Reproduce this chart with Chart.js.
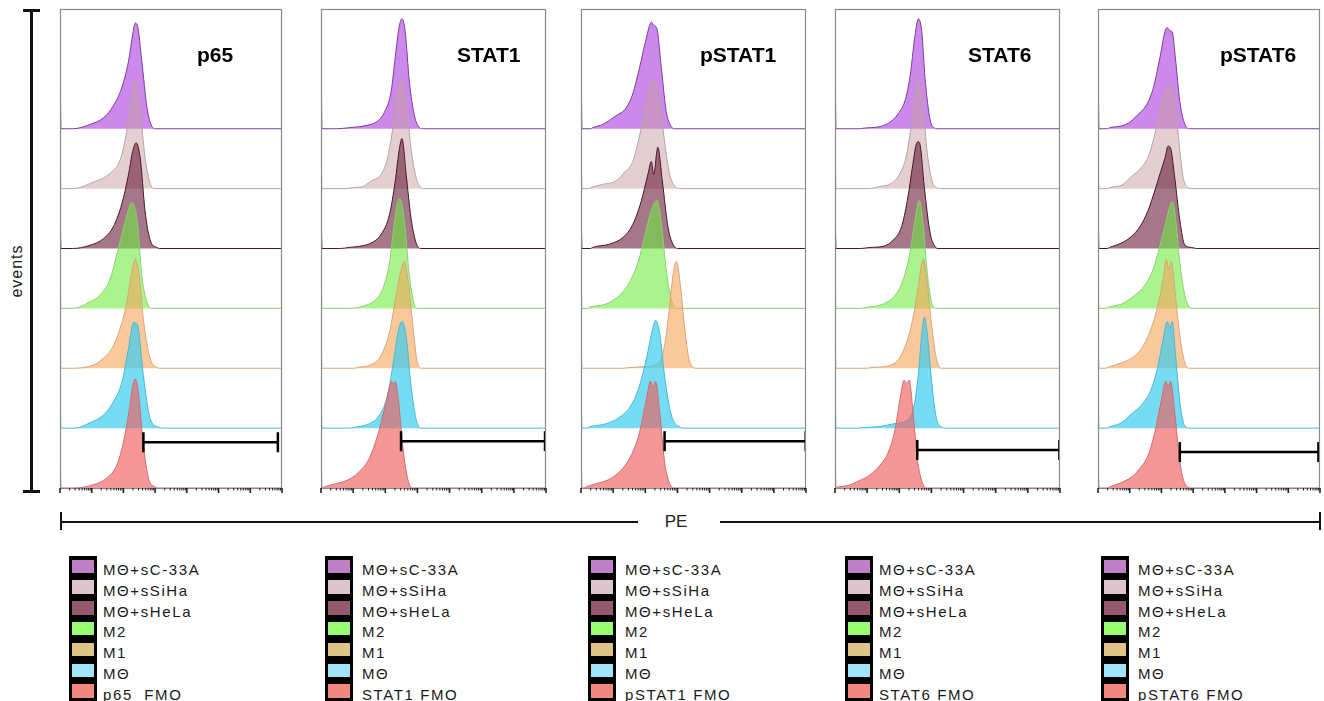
<!DOCTYPE html>
<html lang="en">
<head>
  <meta charset="UTF-8">
  <title>PE histograms</title>
  <script src="https://cdn.jsdelivr.net/npm/chart.js"></script>
  <style>
    body {
      margin: 0;
      background: #fff;
      font-family: Arial, "Liberation Sans", sans-serif;
    }
    #page {
      position: relative;
      width: 1324px;
      height: 701px;
      overflow: hidden;
    }
    .panel {
      position: absolute;
      top: 0;
      height: 500px;
    }
    .bar {
      position: absolute;
      background: #111;
    }
    .events {
      position: absolute;
      left: 17px;
      top: 271px;
      transform: translate(-50%, -50%) rotate(-90deg);
      font-size: 16px;
      letter-spacing: 1px;
      color: #222;
    }
    .pe {
      position: absolute;
      left: 676px;
      top: 522px;
      transform: translate(-50%, -50%);
      font-size: 17px;
      color: #222;
    }
    .swatches {
      position: absolute;
      top: 556px;
      width: 28px;
      height: 150px;
      background: #000;
    }
    .swatches div {
      position: absolute;
      left: 3px;
      width: 22px;
      height: 13.5px;
    }
    .legend-text {
      position: absolute;
      font-size: 15px;
      letter-spacing: 1.6px;
      line-height: 20.8px;
      color: #1a1a1a;
      white-space: pre;
    }
  </style>
</head>
<body>
<div id="page">
  <div class="bar" style="left:30px; top:10px; width:2.5px; height:482px;"></div>
  <div class="bar" style="left:23px; top:9px; width:17px; height:2.5px;"></div>
  <div class="bar" style="left:23px; top:490px; width:17px; height:2.5px;"></div>
  <div class="events">events</div>

  <div class="bar" style="left:60px; top:520.5px; width:578px; height:2.5px;"></div>
  <div class="bar" style="left:720px; top:520.5px; width:600px; height:2.5px;"></div>
  <div class="bar" style="left:59.5px; top:512px; width:2.5px; height:18px;"></div>
  <div class="bar" style="left:1318.5px; top:512px; width:2.5px; height:18px;"></div>
  <div class="pe">PE</div>
</div>
<script>
  // groups, top row first; the last row is the FMO control of each marker
  const groupLabels = ['MΘ+sC-33A', 'MΘ+sSiHa', 'MΘ+sHeLa', 'M2', 'M1', 'MΘ'];
  const markers = ['p65', 'STAT1', 'pSTAT1', 'STAT6', 'pSTAT6'];
  const fmoLabels = ['p65  FMO', 'STAT1 FMO', 'pSTAT1 FMO', 'STAT6 FMO', 'pSTAT6 FMO'];

  // histogram outlines: [PE in decades, events as % of mode]
  const p65Curves = [
    [[0.4,0],[0.95,4],[1.37,10],[1.68,21],[1.95,38],[2.16,62],[2.3,88],[2.37,97],[2.44,95],[2.58,62],[2.74,20],[2.9,2],[3.0,0]],
    [[0.4,0],[1.05,6],[1.58,14],[1.89,26],[2.05,44],[2.21,74],[2.37,100],[2.53,71],[2.68,29],[2.84,5],[3.0,0]],
    [[0.4,0],[0.95,3],[1.37,9],[1.68,20],[1.95,41],[2.16,68],[2.29,89],[2.4,97],[2.53,83],[2.68,35],[2.84,8],[3.05,1],[3.15,0]],
    [[0.4,0],[0.95,6],[1.26,12],[1.58,27],[1.84,55],[2.05,79],[2.26,97],[2.44,79],[2.58,30],[2.74,6],[2.9,0]],
    [[0.4,0],[1.05,3],[1.32,8],[1.63,18],[1.89,36],[2.11,61],[2.26,88],[2.37,100],[2.5,85],[2.63,45],[2.84,9],[3.05,1],[3.15,0]],
    [[0.45,0],[0.95,5],[1.37,12],[1.68,24],[1.95,42],[2.16,73],[2.32,97],[2.44,95],[2.63,48],[2.84,9],[3.1,1],[3.2,0]],
    [[0.45,0],[1.05,3],[1.47,9],[1.79,21],[2.0,42],[2.19,73],[2.29,94],[2.37,100],[2.47,88],[2.63,39],[2.79,9],[3.0,1],[3.1,0]]
  ];
  const stat1Curves = [
    [[0.5,0],[0.88,1],[1.4,3],[1.76,7],[1.97,15],[2.18,34],[2.33,71],[2.44,95],[2.52,101],[2.62,89],[2.75,43],[2.9,13],[3.06,1],[3.15,0]],
    [[0.8,0],[0.99,1],[1.3,2],[1.56,7],[1.87,13],[2.07,28],[2.23,55],[2.35,83],[2.49,101],[2.65,80],[2.8,37],[2.96,10],[3.11,1],[3.2,0]],
    [[0.6,0],[0.88,1],[1.19,2],[1.56,5],[1.87,13],[2.13,31],[2.31,62],[2.44,92],[2.52,101],[2.65,68],[2.8,28],[2.96,5],[3.1,0]],
    [[0.9,0],[1.3,2],[1.66,7],[1.92,18],[2.13,42],[2.28,78],[2.39,98],[2.44,101],[2.59,81],[2.75,30],[2.9,4],[3.0,0]],
    [[1.0,0],[1.19,1],[1.61,4],[1.87,12],[2.13,33],[2.33,66],[2.49,90],[2.59,98],[2.73,75],[2.87,36],[3.0,5],[3.15,0]],
    [[0.9,0],[1.09,1],[1.5,4],[1.82,12],[2.07,30],[2.28,66],[2.41,90],[2.52,98],[2.65,84],[2.8,39],[2.96,8],[3.1,0]],
    [[0.1,1],[0.47,4],[0.88,8],[1.19,15],[1.5,27],[1.76,48],[1.97,72],[2.13,93],[2.19,98],[2.25,95],[2.31,98],[2.42,78],[2.54,39],[2.7,8],[2.85,0]]
  ];
  const pstat1Curves = [
    [[0.3,0],[0.36,1],[0.68,4],[1.09,12],[1.4,19],[1.61,32],[1.82,56],[2.03,83],[2.19,98],[2.26,95],[2.36,92],[2.5,56],[2.65,16],[2.81,2],[2.9,0]],
    [[0.25,0],[0.31,1],[0.68,4],[1.09,7],[1.35,15],[1.61,25],[1.87,55],[2.08,86],[2.24,101],[2.45,80],[2.6,43],[2.76,13],[2.97,1],[3.1,0]],
    [[0.3,0],[0.36,1],[0.88,4],[1.3,10],[1.61,22],[1.87,43],[2.08,68],[2.19,80],[2.26,68],[2.39,93],[2.53,62],[2.71,19],[2.86,4],[3.0,0]],
    [[0.2,0],[0.26,1],[0.78,4],[1.2,12],[1.51,24],[1.77,42],[1.98,66],[2.19,90],[2.36,99],[2.5,78],[2.65,36],[2.81,8],[2.97,0]],
    [[1.3,0],[1.46,0.5],[2.03,1.5],[2.45,6],[2.65,30],[2.81,73],[2.91,94],[2.97,98],[3.07,82],[3.23,36],[3.38,6],[3.6,0]],
    [[0.2,0],[0.26,1],[0.78,4],[1.2,10],[1.56,21],[1.82,39],[2.05,66],[2.22,90],[2.32,99],[2.45,87],[2.6,48],[2.81,12],[3.07,1],[3.2,0]],
    [[0.1,0],[0.16,1],[0.47,4],[0.88,8],[1.3,18],[1.61,33],[1.82,51],[2.03,81],[2.16,98],[2.24,93],[2.32,98],[2.45,69],[2.6,24],[2.76,4],[2.92,0]]
  ];
  const stat6Curves = [
    [[0.8,0],[0.88,0.5],[1.4,2],[1.71,6],[1.97,14],[2.18,26],[2.33,47],[2.49,86],[2.59,101],[2.7,89],[2.8,47],[2.96,8],[3.08,1],[3.15,0]],
    [[1.0,0],[1.4,2],[1.76,5],[2.02,14],[2.21,29],[2.39,62],[2.52,95],[2.59,101],[2.73,80],[2.85,38],[3.01,8],[3.16,1],[3.25,0]],
    [[0.8,0],[1.09,1],[1.5,2],[1.82,8],[2.07,20],[2.25,44],[2.42,77],[2.52,95],[2.59,98],[2.65,95],[2.78,56],[2.96,14],[3.11,2],[3.2,0]],
    [[0.8,0],[0.99,1],[1.5,4],[1.87,12],[2.13,27],[2.33,51],[2.49,81],[2.62,99],[2.75,75],[2.87,33],[3.01,5],[3.15,0]],
    [[1.0,0],[1.09,0.5],[1.61,2],[1.97,8],[2.23,24],[2.44,48],[2.59,75],[2.7,96],[2.75,100],[2.87,78],[3.01,39],[3.16,8],[3.32,0]],
    [[0.7,0],[0.88,0.5],[1.4,1.5],[1.82,4],[2.23,7],[2.44,18],[2.59,48],[2.7,87],[2.78,102],[2.87,87],[3.01,42],[3.16,8],[3.32,1],[3.42,0]],
    [[0.05,0.5],[0.36,2],[0.78,7],[1.09,12],[1.4,21],[1.66,33],[1.87,54],[2.02,81],[2.15,99],[2.23,96],[2.31,99],[2.42,72],[2.56,27],[2.73,4],[2.86,0]]
  ];
  const pstat6Curves = [
    [[0.3,0],[0.37,1],[0.63,2],[0.95,5],[1.26,13],[1.53,22],[1.74,37],[1.95,65],[2.11,89],[2.18,93],[2.26,90],[2.34,89],[2.44,65],[2.58,25],[2.74,4],[2.9,0]],
    [[0.3,0],[0.37,1],[0.74,3],[1.05,11],[1.32,18],[1.58,29],[1.79,50],[2.0,80],[2.16,92],[2.26,95],[2.4,86],[2.55,44],[2.68,11],[2.84,1],[2.95,0]],
    [[0.3,0],[0.37,1],[0.74,5],[1.05,11],[1.32,20],[1.58,35],[1.79,53],[1.98,71],[2.11,83],[2.21,94],[2.29,92],[2.42,65],[2.58,26],[2.74,3],[2.95,1],[3.1,0]],
    [[0.25,0],[0.32,1],[0.74,4],[1.16,12],[1.47,21],[1.74,36],[1.95,57],[2.13,78],[2.26,93],[2.34,98],[2.44,84],[2.58,42],[2.74,12],[2.89,1],[3.0,0]],
    [[0.25,0],[0.32,1],[0.74,5],[1.05,9],[1.37,18],[1.63,33],[1.84,52],[2.02,76],[2.16,100],[2.23,91],[2.32,98],[2.42,73],[2.58,30],[2.74,5],[2.9,0]],
    [[0.3,0],[0.37,1],[0.74,5],[1.05,13],[1.37,21],[1.68,36],[1.89,57],[2.05,81],[2.19,98],[2.26,92],[2.34,98],[2.44,69],[2.58,24],[2.74,2],[2.9,0]],
    [[0.3,0],[0.37,1],[0.74,5],[1.05,10],[1.32,18],[1.58,30],[1.79,51],[1.98,78],[2.14,98],[2.21,93],[2.29,98],[2.42,69],[2.58,24],[2.74,4],[2.95,0]]
  ];
  // pile-up of events at the axis minimum, per row (off scale)
  const edgeCounts = [100, 55, 55, 55, 55, 55, 55];

  // positive gate on the FMO row
  const gateFrom = [2.63, 2.49, 2.6, 2.56, 2.58];
  const gateTo = [6.87, 6.97, 6.99, 6.98, 6.95];
  const gateLevel = [42, 43, 43, 35, 33];

  const allCurves = [p65Curves, stat1Curves, pstat1Curves, stat6Curves, pstat6Curves];

  // layout / style
  const ROW = 55;
  const panelLeft = [60, 321, 581, 835, 1098];
  const panelRight = [282, 546, 806, 1060, 1320];
  const titleX = [137, 136, 119, 133, 122];
  const legendX = [69, 325, 588, 845, 1101];
  const legendTextX = [103, 362, 625, 879, 1138];
  const fillColors = ['rgba(180,80,225,0.68)', 'rgba(200,160,165,0.5)', 'rgba(100,20,50,0.58)',
    'rgba(110,235,60,0.58)', 'rgba(245,165,90,0.6)', 'rgba(60,205,240,0.7)', 'rgba(240,95,95,0.65)'];
  const lineColors = ['#7a3d98', '#b9a2a6', '#45182a', '#8bd070', '#d6a67c', '#4bb6d2', '#cf6c6c'];
  const swatchColors = ['#bf80c8', '#dcc5cc', '#935b6c', '#99ff70', '#dec485', '#a0e4fa', '#f2877f'];

  const framePlugin = {
    id: 'flowFrame',
    afterDatasetsDraw(chart, args, opts) {
      const { ctx, chartArea: a, scales } = chart;
      ctx.save();
      ctx.strokeStyle = '#8a8a8a';
      ctx.lineWidth = 1.2;
      ctx.strokeRect(a.left + 0.5, a.top + 0.5, a.right - a.left - 1, a.bottom - a.top);
      ctx.strokeStyle = '#222';
      for (let d = 0; d <= 7; d++) {
        const x = scales.x.getPixelForValue(d);
        ctx.lineWidth = 1.6;
        ctx.beginPath();
        ctx.moveTo(x, a.bottom);
        ctx.lineTo(x, a.bottom + 5);
        ctx.stroke();
        if (d === 7) break;
        ctx.lineWidth = 1;
        for (let k = 2; k <= 9; k++) {
          const xm = scales.x.getPixelForValue(d + Math.log10(k));
          ctx.beginPath();
          ctx.moveTo(xm, a.bottom);
          ctx.lineTo(xm, a.bottom + 2.5);
          ctx.stroke();
        }
      }
      ctx.fillStyle = '#000';
      ctx.font = 'bold 21px Arial, "Liberation Sans", sans-serif';
      ctx.textBaseline = 'alphabetic';
      ctx.fillText(opts.title, a.left + opts.titleX, 62);
      ctx.restore();
    }
  };

  const page = document.getElementById('page');

  markers.forEach((marker, p) => {
    const curves = allCurves[p];
    const datasets = [{
      data: [{ x: gateFrom[p], y: gateLevel[p] }, { x: gateTo[p], y: gateLevel[p] }],
      borderColor: '#000',
      borderWidth: 2.5,
      pointStyle: 'line',
      pointRotation: 90,
      pointRadius: 10,
      pointBorderWidth: 2.5,
      pointBorderColor: '#000',
      fill: false,
      order: -1
    }];
    // bottom row first so lower histograms are painted over upper ones
    for (let r = 6; r >= 0; r--) {
      const base = (6 - r) * ROW;
      const pts = [{ x: 0, y: base + edgeCounts[r] }, { x: 0.03, y: base }];
      curves[r].forEach(([x, h]) => pts.push({ x: x, y: base + h }));
      pts.push({ x: 7, y: base });
      datasets.push({
        data: pts,
        fill: { value: base },
        backgroundColor: fillColors[r],
        borderColor: lineColors[r],
        borderWidth: 1,
        pointRadius: 0,
        cubicInterpolationMode: 'monotone'
      });
    }

    const wrap = document.createElement('div');
    wrap.className = 'panel';
    wrap.style.left = (panelLeft[p] - 3) + 'px';
    wrap.style.width = (panelRight[p] - panelLeft[p] + 6) + 'px';
    const canvas = document.createElement('canvas');
    wrap.appendChild(canvas);
    page.appendChild(wrap);

    new Chart(canvas, {
      type: 'line',
      data: { datasets: datasets },
      plugins: [framePlugin],
      options: {
        responsive: true,
        maintainAspectRatio: false,
        animation: false,
        events: [],
        layout: { autoPadding: false, padding: { left: 3, right: 3, top: 9, bottom: 12 } },
        scales: {
          x: { type: 'linear', min: 0, max: 7, display: false },
          y: { min: 0, max: 8 * ROW, display: false }
        },
        plugins: {
          legend: { display: false },
          tooltip: { enabled: false },
          flowFrame: { title: marker, titleX: titleX[p] }
        }
      }
    });

    // legend under each panel
    const sw = document.createElement('div');
    sw.className = 'swatches';
    sw.style.left = legendX[p] + 'px';
    const labels = groupLabels.concat([fmoLabels[p]]);
    labels.forEach((lab, i) => {
      const box = document.createElement('div');
      box.style.top = (3.5 + i * 20.8) + 'px';
      box.style.background = swatchColors[i];
      sw.appendChild(box);
      const t = document.createElement('div');
      t.className = 'legend-text';
      t.style.left = legendTextX[p] + 'px';
      t.style.top = (560 + i * 20.8) + 'px';
      t.textContent = lab;
      page.appendChild(t);
    });
    page.appendChild(sw);
  });
</script>
</body>
</html>
